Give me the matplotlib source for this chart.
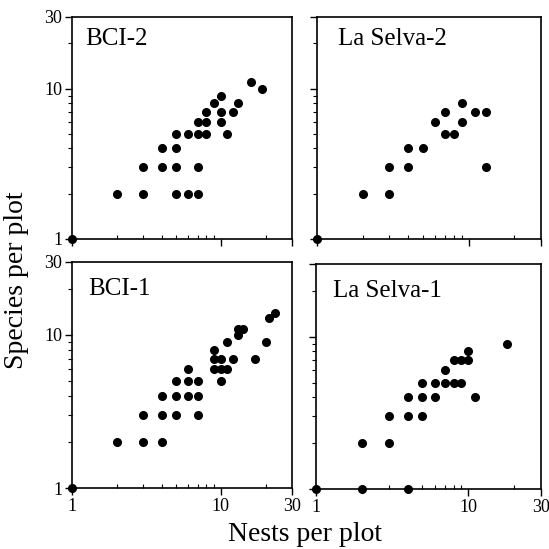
import matplotlib
matplotlib.use("Agg")
import matplotlib.pyplot as plt
from matplotlib.ticker import FixedLocator, NullFormatter, FixedFormatter

plt.rcParams['font.family'] = ['Liberation Serif', 'DejaVu Serif']

# Data: (nests, species) per plot
bci2_x = [1, 2, 3, 5, 6, 7, 3, 4, 5, 7, 4, 5, 5, 6, 7, 8, 11, 7, 8, 10, 8, 10, 12, 9, 13, 10, 16, 19]
bci2_y = [1, 2, 2, 2, 2, 2, 3, 3, 3, 3, 4, 4, 5, 5, 5, 5, 5, 6, 6, 6, 7, 7, 7, 8, 8, 9, 11, 10]

ls2_x = [1, 2, 3, 3, 4, 13, 4, 5, 7, 8, 6, 9, 7, 11, 13, 9]
ls2_y = [1, 2, 2, 3, 3, 3, 4, 4, 5, 5, 6, 6, 7, 7, 7, 8]

bci1_x = [1, 2, 3, 4, 3, 4, 5, 7, 4, 5, 6, 7, 5, 6, 7, 10, 6, 9, 10, 11,
          9, 10, 12, 17, 9, 11, 20, 13, 13, 14, 21, 23]
bci1_y = [1, 2, 2, 2, 3, 3, 3, 3, 4, 4, 4, 4, 5, 5, 5, 5, 6, 6, 6, 6,
          7, 7, 7, 7, 8, 9, 9, 10, 11, 11, 13, 14]

ls1_x = [1, 2, 4, 2, 3, 3, 4, 5, 4, 5, 6, 11, 5, 6, 7, 8, 9, 7, 8, 9, 10, 10, 18]
ls1_y = [1, 1, 1, 2, 2, 3, 3, 3, 4, 4, 4, 4, 5, 5, 5, 5, 5, 6, 7, 7, 7, 8, 9]

panel_titles = ["BCI-2", "La Selva-2", "BCI-1", "La Selva-1"]
major_ticks = [1, 10, 30]
major_labels = ["1", "10", "30"]
minor_ticks = [2, 3, 4, 5, 6, 7, 8, 9, 20]

fig = plt.figure(figsize=(5.49, 5.49), dpi=100)

panels = [
    ([0.1311, 0.5647, 0.4007, 0.4044], bci2_x, bci2_y, panel_titles[0], (0.06, 0.95), False, True),
    ([0.5774, 0.5647, 0.4080, 0.4044], ls2_x, ls2_y, panel_titles[1], (0.094, 0.95), False, False),
    ([0.1311, 0.1111, 0.4007, 0.4117], bci1_x, bci1_y, panel_titles[2], (0.073, 0.93), True, True),
    ([0.5756, 0.1093, 0.4098, 0.4098], ls1_x, ls1_y, panel_titles[3], (0.076, 0.93), True, False),
]

for rect, xs, ys, title, tpos, xlab, ylab in panels:
    ax = fig.add_axes(rect)
    ax.set_xscale('log')
    ax.set_yscale('log')
    ax.set_xlim(1, 30)
    ax.set_ylim(1, 30)
    ax.plot(xs, ys, 'o', color='black', markersize=5.5, clip_on=False, zorder=5)
    for axis in (ax.xaxis, ax.yaxis):
        axis.set_major_locator(FixedLocator(major_ticks))
        axis.set_minor_locator(FixedLocator(minor_ticks))
        axis.set_minor_formatter(NullFormatter())
        axis.set_major_formatter(FixedFormatter(major_labels))
    ax.tick_params(axis='both', which='major', direction='out', length=5, width=1,
                   labelsize=13, pad=2, colors='black')
    ax.tick_params(axis='both', which='minor', direction='out', length=3, width=0.8)
    ax.tick_params(axis='x', which='minor', direction='in')
    if not xlab:
        ax.tick_params(axis='x', labelbottom=False)
    if not ylab:
        ax.tick_params(axis='y', labelleft=False)
    for sp in ax.spines.values():
        sp.set_linewidth(1.2)
        sp.set_color('black')
    ax.text(tpos[0], tpos[1], title, transform=ax.transAxes, ha='left', va='top',
            fontsize=18)

fig.text(0.555, 0.003, "Nests per plot", ha='center', va='bottom', fontsize=20)
fig.text(0.008, 0.49, "Species per plot", ha='left', va='center', rotation=90, fontsize=20)

fig.savefig("out.png", dpi=100)
